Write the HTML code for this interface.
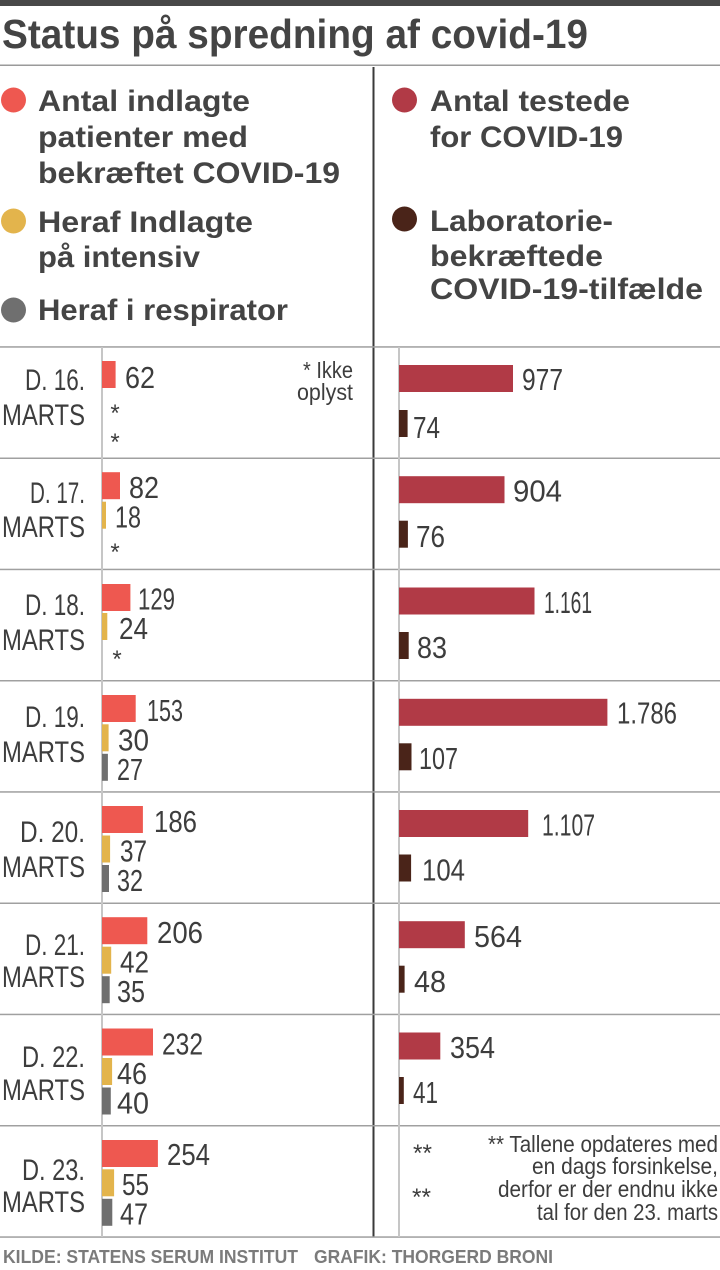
<!DOCTYPE html>
<html>
<head>
<meta charset="utf-8">
<style>
  html,body{margin:0;padding:0;background:#fff;}
  svg{display:block;}
  text{font-family:"Liberation Sans",Arial,sans-serif;}
  .t{font-weight:bold;fill:#444;}
  .lg{font-weight:bold;font-size:30px;fill:#444;}
  .v{font-size:31px;fill:#3d3d3d;}
  .d{font-size:30px;fill:#3d3d3d;}
  .n{font-size:23px;fill:#3d3d3d;}
  .ast{font-size:24px;fill:#3d3d3d;}
  .f{font-weight:bold;font-size:18px;fill:#7b7b7b;}
</style>
</head>
<body>
<svg width="720" height="1270" viewBox="0 0 720 1270" xmlns="http://www.w3.org/2000/svg">
  <rect x="0" y="0" width="720" height="1270" fill="#fff"/>
  <!-- top bar -->
  <rect x="0" y="0" width="720" height="6" fill="#484848"/>
  <!-- title -->
  <text class="t" x="2" y="48" font-size="41" textLength="586" lengthAdjust="spacingAndGlyphs">Status på spredning af covid-19</text>
  <rect x="0" y="64.5" width="720" height="1.5" fill="#9a9a9a"/>

  <!-- vertical divider -->
  <rect x="372.5" y="67" width="2" height="1170" fill="#3a3a3a"/>

  <!-- legend left -->
  <circle cx="13.5" cy="100" r="12.5" fill="#ee5850"/>
  <text class="lg" x="38" y="111" textLength="212" lengthAdjust="spacingAndGlyphs">Antal indlagte</text>
  <text class="lg" x="38" y="147" textLength="210" lengthAdjust="spacingAndGlyphs">patienter med</text>
  <text class="lg" x="38" y="183" textLength="302" lengthAdjust="spacingAndGlyphs">bekræftet COVID-19</text>
  <circle cx="13.5" cy="221" r="12.5" fill="#e3b44c"/>
  <text class="lg" x="38" y="232" textLength="215" lengthAdjust="spacingAndGlyphs">Heraf Indlagte</text>
  <text class="lg" x="38" y="267" textLength="162" lengthAdjust="spacingAndGlyphs">på intensiv</text>
  <circle cx="13.5" cy="310" r="12.5" fill="#6f6f6f"/>
  <text class="lg" x="38" y="320" textLength="250" lengthAdjust="spacingAndGlyphs">Heraf i respirator</text>

  <!-- legend right -->
  <circle cx="404.5" cy="100" r="12.5" fill="#b13a46"/>
  <text class="lg" x="430" y="111" textLength="200" lengthAdjust="spacingAndGlyphs">Antal testede</text>
  <text class="lg" x="430" y="147" textLength="193" lengthAdjust="spacingAndGlyphs">for COVID-19</text>
  <circle cx="404.5" cy="219" r="12.5" fill="#4a2419"/>
  <text class="lg" x="430" y="231" textLength="183" lengthAdjust="spacingAndGlyphs">Laboratorie-</text>
  <text class="lg" x="430" y="266" textLength="173" lengthAdjust="spacingAndGlyphs">bekræftede</text>
  <text class="lg" x="430" y="299" textLength="273" lengthAdjust="spacingAndGlyphs">COVID-19-tilfælde</text>

  <!-- row separators -->
  <g fill="#a0a0a0">
    <rect x="0" y="346.2" width="720" height="1.5"/>
    <rect x="0" y="457.5" width="720" height="1.5"/>
    <rect x="0" y="568.7" width="720" height="1.5"/>
    <rect x="0" y="680" width="720" height="1.5"/>
    <rect x="0" y="791.2" width="720" height="1.5"/>
    <rect x="0" y="902.5" width="720" height="1.5"/>
    <rect x="0" y="1013.7" width="720" height="1.5"/>
    <rect x="0" y="1125" width="720" height="1.5"/>
    <rect x="0" y="1236.3" width="720" height="1.5"/>
  </g>

  <!-- axis lines -->
  <rect x="101" y="347" width="2" height="890" fill="#c6c6c6"/>
  <rect x="398" y="347" width="2" height="890" fill="#c6c6c6"/>

  <!-- date labels -->
  <g class="d" text-anchor="end">
    <text x="85" y="390" textLength="60" lengthAdjust="spacingAndGlyphs">D. 16.</text>
    <text x="85" y="425" textLength="83" lengthAdjust="spacingAndGlyphs">MARTS</text>
    <text x="85" y="503" textLength="55" lengthAdjust="spacingAndGlyphs">D. 17.</text>
    <text x="85" y="537" textLength="83" lengthAdjust="spacingAndGlyphs">MARTS</text>
    <text x="85" y="615" textLength="60" lengthAdjust="spacingAndGlyphs">D. 18.</text>
    <text x="85" y="650" textLength="83" lengthAdjust="spacingAndGlyphs">MARTS</text>
    <text x="85" y="727" textLength="60" lengthAdjust="spacingAndGlyphs">D. 19.</text>
    <text x="85" y="762" textLength="83" lengthAdjust="spacingAndGlyphs">MARTS</text>
    <text x="85" y="842" textLength="65" lengthAdjust="spacingAndGlyphs">D. 20.</text>
    <text x="85" y="877" textLength="83" lengthAdjust="spacingAndGlyphs">MARTS</text>
    <text x="85" y="955" textLength="60" lengthAdjust="spacingAndGlyphs">D. 21.</text>
    <text x="85" y="987" textLength="83" lengthAdjust="spacingAndGlyphs">MARTS</text>
    <text x="85" y="1067" textLength="63" lengthAdjust="spacingAndGlyphs">D. 22.</text>
    <text x="85" y="1100" textLength="83" lengthAdjust="spacingAndGlyphs">MARTS</text>
    <text x="85" y="1180" textLength="63" lengthAdjust="spacingAndGlyphs">D. 23.</text>
    <text x="85" y="1212" textLength="83" lengthAdjust="spacingAndGlyphs">MARTS</text>
  </g>

  <!-- LEFT BARS -->
  <!-- row1 r=347 -->
  <rect x="102" y="361" width="13.6" height="27" fill="#ee5850"/>
  <text class="v" x="125" y="388" textLength="30" lengthAdjust="spacingAndGlyphs">62</text>
  <text class="ast" x="115" y="421" text-anchor="middle">*</text>
  <text class="ast" x="115" y="450" text-anchor="middle">*</text>
  <text class="n" x="353" y="378" text-anchor="end" textLength="50" lengthAdjust="spacingAndGlyphs">* Ikke</text>
  <text class="n" x="353" y="400" text-anchor="end" textLength="56" lengthAdjust="spacingAndGlyphs">oplyst</text>

  <!-- row2 r=458.2 -->
  <rect x="102" y="472.2" width="18" height="27" fill="#ee5850"/>
  <text class="v" x="129" y="498.2" textLength="30" lengthAdjust="spacingAndGlyphs">82</text>
  <rect x="102" y="501.7" width="4" height="27" fill="#e3b44c"/>
  <text class="v" x="115" y="527.7" textLength="26" lengthAdjust="spacingAndGlyphs">18</text>
  <text class="ast" x="115" y="560" text-anchor="middle">*</text>

  <!-- row3 r=569.5 -->
  <rect x="102" y="584" width="28.4" height="27" fill="#ee5850"/>
  <text class="v" x="138" y="609.5" textLength="37" lengthAdjust="spacingAndGlyphs">129</text>
  <rect x="102" y="613" width="5.3" height="27" fill="#e3b44c"/>
  <text class="v" x="119" y="639" textLength="29" lengthAdjust="spacingAndGlyphs">24</text>
  <text class="ast" x="117" y="667" text-anchor="middle">*</text>

  <!-- row4 r=680.8 -->
  <rect x="102" y="695" width="33.7" height="27" fill="#ee5850"/>
  <text class="v" x="147" y="720.8" textLength="36" lengthAdjust="spacingAndGlyphs">153</text>
  <rect x="102" y="724.3" width="6.6" height="27" fill="#e3b44c"/>
  <text class="v" x="118" y="750.3" textLength="31" lengthAdjust="spacingAndGlyphs">30</text>
  <rect x="102" y="753.8" width="5.9" height="27" fill="#6f6f6f"/>
  <text class="v" x="117" y="779.8" textLength="26" lengthAdjust="spacingAndGlyphs">27</text>

  <!-- row5 r=792 -->
  <rect x="102" y="806" width="40.9" height="27" fill="#ee5850"/>
  <text class="v" x="154" y="832" textLength="43" lengthAdjust="spacingAndGlyphs">186</text>
  <rect x="102" y="835.5" width="8.1" height="27" fill="#e3b44c"/>
  <text class="v" x="120" y="861.5" textLength="27" lengthAdjust="spacingAndGlyphs">37</text>
  <rect x="102" y="865" width="7" height="27" fill="#6f6f6f"/>
  <text class="v" x="117" y="891" textLength="26" lengthAdjust="spacingAndGlyphs">32</text>

  <!-- row6 r=903.2 -->
  <rect x="102" y="917.2" width="45.3" height="27" fill="#ee5850"/>
  <text class="v" x="157" y="943.2" textLength="46" lengthAdjust="spacingAndGlyphs">206</text>
  <rect x="102" y="946.7" width="9.2" height="27" fill="#e3b44c"/>
  <text class="v" x="120" y="972.7" textLength="29" lengthAdjust="spacingAndGlyphs">42</text>
  <rect x="102" y="976.2" width="7.7" height="27" fill="#6f6f6f"/>
  <text class="v" x="117" y="1002.2" textLength="28" lengthAdjust="spacingAndGlyphs">35</text>

  <!-- row7 r=1014.5 -->
  <rect x="102" y="1028.5" width="51" height="27" fill="#ee5850"/>
  <text class="v" x="162" y="1054.5" textLength="41" lengthAdjust="spacingAndGlyphs">232</text>
  <rect x="102" y="1058" width="10.1" height="27" fill="#e3b44c"/>
  <text class="v" x="117" y="1084" textLength="30" lengthAdjust="spacingAndGlyphs">46</text>
  <rect x="102" y="1087.5" width="8.8" height="27" fill="#6f6f6f"/>
  <text class="v" x="117" y="1113.5" textLength="32" lengthAdjust="spacingAndGlyphs">40</text>

  <!-- row8 r=1125.8 -->
  <rect x="102" y="1140" width="55.9" height="27" fill="#ee5850"/>
  <text class="v" x="167" y="1165" textLength="43" lengthAdjust="spacingAndGlyphs">254</text>
  <rect x="102" y="1169.3" width="12.1" height="27" fill="#e3b44c"/>
  <text class="v" x="122" y="1195" textLength="27" lengthAdjust="spacingAndGlyphs">55</text>
  <rect x="102" y="1198.8" width="10.3" height="27" fill="#6f6f6f"/>
  <text class="v" x="120" y="1224.5" textLength="28" lengthAdjust="spacingAndGlyphs">47</text>

  <!-- RIGHT BARS -->
  <!-- row1 -->
  <rect x="399" y="365" width="114" height="27" fill="#b13a46"/>
  <text class="v" x="522" y="390" textLength="41" lengthAdjust="spacingAndGlyphs">977</text>
  <rect x="399" y="410" width="8.6" height="27" fill="#4a2419"/>
  <text class="v" x="413" y="438" textLength="27" lengthAdjust="spacingAndGlyphs">74</text>
  <!-- row2 -->
  <rect x="399" y="476.2" width="105.5" height="27" fill="#b13a46"/>
  <text class="v" x="513" y="501.5" textLength="49" lengthAdjust="spacingAndGlyphs">904</text>
  <rect x="399" y="520.7" width="8.9" height="27" fill="#4a2419"/>
  <text class="v" x="416" y="547" textLength="29" lengthAdjust="spacingAndGlyphs">76</text>
  <!-- row3 -->
  <rect x="399" y="587.5" width="135.5" height="27" fill="#b13a46"/>
  <text class="v" x="544" y="613" textLength="48" lengthAdjust="spacingAndGlyphs">1.161</text>
  <rect x="399" y="632" width="9.7" height="27" fill="#4a2419"/>
  <text class="v" x="417" y="658" textLength="30" lengthAdjust="spacingAndGlyphs">83</text>
  <!-- row4 -->
  <rect x="399" y="698.8" width="208.4" height="27" fill="#b13a46"/>
  <text class="v" x="617" y="723.5" textLength="60" lengthAdjust="spacingAndGlyphs">1.786</text>
  <rect x="399" y="743.3" width="12.5" height="27" fill="#4a2419"/>
  <text class="v" x="419" y="769" textLength="39" lengthAdjust="spacingAndGlyphs">107</text>
  <!-- row5 -->
  <rect x="399" y="810" width="129.2" height="27" fill="#b13a46"/>
  <text class="v" x="542" y="835.5" textLength="53" lengthAdjust="spacingAndGlyphs">1.107</text>
  <rect x="399" y="854.5" width="12.1" height="27" fill="#4a2419"/>
  <text class="v" x="422" y="880.5" textLength="43" lengthAdjust="spacingAndGlyphs">104</text>
  <!-- row6 -->
  <rect x="399" y="921.2" width="65.8" height="27" fill="#b13a46"/>
  <text class="v" x="474" y="947" textLength="48" lengthAdjust="spacingAndGlyphs">564</text>
  <rect x="399" y="965.7" width="5.6" height="27" fill="#4a2419"/>
  <text class="v" x="414" y="992" textLength="32" lengthAdjust="spacingAndGlyphs">48</text>
  <!-- row7 -->
  <rect x="399" y="1032.5" width="41.3" height="27" fill="#b13a46"/>
  <text class="v" x="450" y="1058" textLength="45" lengthAdjust="spacingAndGlyphs">354</text>
  <rect x="399" y="1077" width="4.8" height="27" fill="#4a2419"/>
  <text class="v" x="413" y="1103" textLength="25" lengthAdjust="spacingAndGlyphs">41</text>
  <!-- row8 -->
  <text class="ast" x="413" y="1161" textLength="19" lengthAdjust="spacingAndGlyphs">**</text>
  <text class="ast" x="412" y="1205" textLength="19" lengthAdjust="spacingAndGlyphs">**</text>
  <g class="n" text-anchor="end">
    <text x="718" y="1152" textLength="230" lengthAdjust="spacingAndGlyphs">** Tallene opdateres med</text>
    <text x="718" y="1174" textLength="186" lengthAdjust="spacingAndGlyphs">en dags forsinkelse,</text>
    <text x="718" y="1197" textLength="220" lengthAdjust="spacingAndGlyphs">derfor er der endnu ikke</text>
    <text x="718" y="1220" textLength="181" lengthAdjust="spacingAndGlyphs">tal for den 23. marts</text>
  </g>

  <!-- footer -->
  <text class="f" x="3" y="1263" textLength="295" lengthAdjust="spacingAndGlyphs">KILDE: STATENS SERUM INSTITUT</text>
  <text class="f" x="314" y="1263" textLength="239" lengthAdjust="spacingAndGlyphs">GRAFIK: THORGERD BRONI</text>
</svg>
</body>
</html>
